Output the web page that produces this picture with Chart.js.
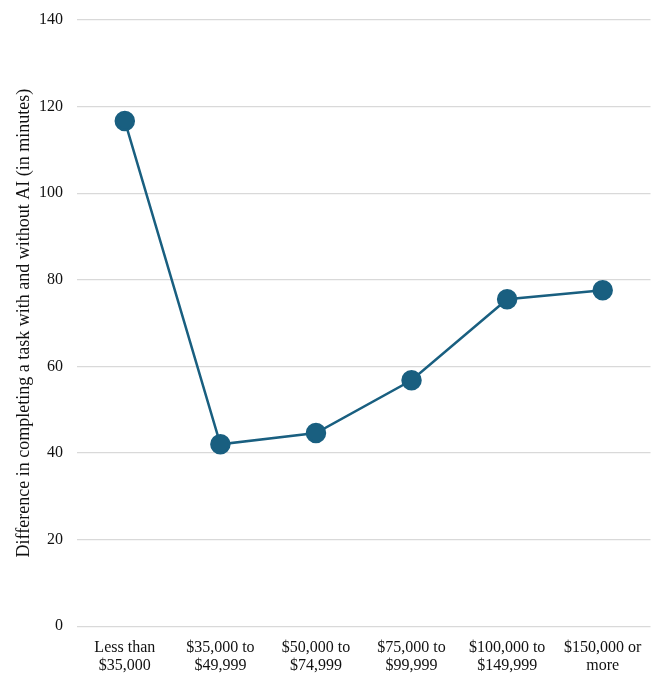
<!DOCTYPE html>
<html>
<head>
<meta charset="utf-8">
<script src="https://cdn.jsdelivr.net/npm/chart.js@4"></script>
<style>
  html, body { margin: 0; padding: 0; background: #fff; }
  #wrap { width: 662px; height: 690px; }
</style>
</head>
<body>
<div id="wrap"><canvas id="myChart" width="662" height="690"></canvas></div>
<script>
const categories = [
    ['Less than', '$35,000'],
    ['$35,000 to', '$49,999'],
    ['$50,000 to', '$74,999'],
    ['$75,000 to', '$99,999'],
    ['$100,000 to', '$149,999'],
    ['$150,000 or', 'more']
];
const minutesDiff = [116.7, 42.0, 44.6, 56.8, 75.5, 77.6];
const yTitle = 'Difference in completing a task with and without AI (in minutes)';

const lineColor = '#195f80';
const family = '"Liberation Serif", "Times New Roman", serif';

new Chart(document.getElementById('myChart').getContext('2d'), {
    type: 'line',
    data: {
        labels: categories,
        datasets: [{
            data: minutesDiff,
            borderColor: lineColor,
            backgroundColor: lineColor,
            borderWidth: 2.5,
            pointRadius: 9,
            pointHoverRadius: 9,
            tension: 0
        }]
    },
    options: {
        responsive: false,
        animation: false,
        layout: { padding: { top: 0, right: 9, left: 0, bottom: 11 } },
        plugins: { legend: { display: false }, tooltip: { enabled: false } },
        scales: {
            x: {
                offset: true,
                grid: { display: false },
                border: { display: false },
                ticks: { color: '#111', font: { family: family, size: 16, lineHeight: 1.15 }, padding: 4, maxRotation: 0 }
            },
            y: {
                min: 0,
                max: 140,
                afterFit: (axis) => { axis.width = 77; axis.paddingTop = 20; },
                ticks: { stepSize: 20, color: '#111', font: { family: family, size: 16 }, padding: 14 },
                grid: { color: '#d9d9d9', lineWidth: 1.2, drawTicks: false },
                border: { display: false },
                title: { display: true, text: yTitle, color: '#111', font: { family: family, size: 18 }, padding: { top: 13, bottom: 4 } }
            }
        }
    }
});
</script>
</body>
</html>
